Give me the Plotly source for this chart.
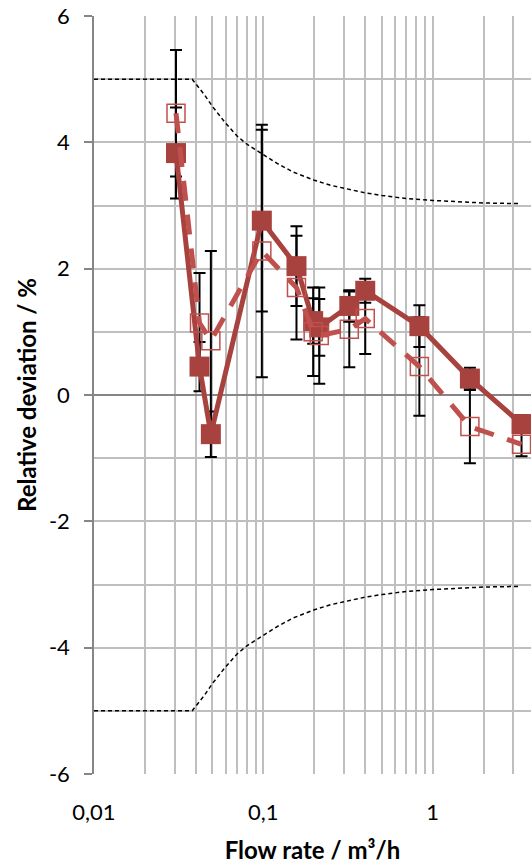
import plotly.graph_objects as go

# ---- data ----
flow = [0.0305, 0.042, 0.049, 0.098, 0.157, 0.197, 0.214, 0.322, 0.40, 0.835, 1.66, 3.35]
dev_solid = [3.83, 0.45, -0.62, 2.76, 2.04, 1.17, 1.07, 1.41, 1.65, 1.09, 0.26, -0.46]
err_solid = [0.72, 0.39, 0.36, 1.44, 0.63, 0.36, 0.45, 0.25, 0.19, 0.33, 0.17, 0.14]
dev_open = [4.46, 1.14, 0.86, 2.28, 1.70, 1.00, 0.94, 1.04, 1.21, 0.45, -0.50, -0.78]
err_open = [1.00, 0.79, 1.42, 2.00, 0.82, 0.70, 0.76, 0.60, 0.56, 0.78, 0.58, 0.19]

lim_x = [0.01, 0.038, 0.045, 0.05, 0.06, 0.07, 0.08, 0.1, 0.12, 0.15, 0.2, 0.25,
         0.3, 0.4, 0.5, 0.7, 1.0, 1.5, 2.0, 3.3]
lim_up = [5.0, 5.0, 4.75, 4.57, 4.3, 4.1, 3.97, 3.8, 3.67, 3.53, 3.4, 3.32,
          3.27, 3.2, 3.16, 3.11, 3.08, 3.05, 3.04, 3.03]
lim_low = [-5.0, -5.0, -4.75, -4.57, -4.3, -4.1, -3.97, -3.8, -3.67, -3.53, -3.4, -3.32,
           -3.27, -3.2, -3.16, -3.11, -3.08, -3.05, -3.04, -3.03]

x_major = [0.01, 0.1, 1]
x_major_text = ["0,01", "0,1", "1"]
x_minor = [0.02, 0.03, 0.04, 0.05, 0.06, 0.07, 0.08, 0.09,
           0.2, 0.3, 0.4, 0.5, 0.6, 0.7, 0.8, 0.9,
           2, 3, 4, 5, 6, 7, 8, 9]
y_major = [-6, -4, -2, 0, 2, 4, 6]
y_major_text = ["-6", "-4", "-2", "0", "2", "4", "6"]

SOLID = "#A8423F"
OPEN = "#C0504D"
FONT = "Lato"

fig = go.Figure()

# limit curves
for ly in (lim_up, lim_low):
    fig.add_trace(go.Scatter(x=lim_x, y=ly, mode="lines",
                             line=dict(color="black", width=1.5, dash="4px,3px"),
                             showlegend=False, hoverinfo="skip"))

# error bars (drawn beneath the series)
for yv, ev in ((dev_solid, err_solid), (dev_open, err_open)):
    fig.add_trace(go.Scatter(x=flow, y=yv, mode="markers",
                             marker=dict(size=1, color="rgba(0,0,0,0)"),
                             error_y=dict(type="data", array=ev, visible=True,
                                          color="black", thickness=2, width=6),
                             showlegend=False, hoverinfo="skip"))

# solid series
fig.add_trace(go.Scatter(x=flow, y=dev_solid, mode="lines+markers",
                         line=dict(color=SOLID, width=5),
                         marker=dict(symbol="square", size=20, color=SOLID,
                                     line=dict(width=0)),
                         showlegend=False))

# open-marker dashed series
fig.add_trace(go.Scatter(x=flow, y=dev_open, mode="lines+markers",
                         line=dict(color=OPEN, width=5, dash="20px,14px"),
                         marker=dict(symbol="square-open", size=18, color=OPEN,
                                     line=dict(width=1.5, color=OPEN)),
                         showlegend=False))

fig.update_layout(
    width=531, height=864,
    margin=dict(l=94, r=0, t=16, b=90),
    paper_bgcolor="white", plot_bgcolor="white",
    font=dict(family=FONT, size=22, color="black"),
)

fig.update_xaxes(
    type="log", range=[-2, 0.581],
    tickmode="array", tickvals=x_major, ticktext=x_major_text,
    tickfont=dict(size=22, family=FONT),
    showgrid=True, gridcolor="#BFBFBF", gridwidth=1.5,
    minor=dict(tickmode="array", tickvals=x_minor, showgrid=True,
               gridcolor="#BFBFBF", gridwidth=1.5, ticks=""),
    ticks="", showline=False, zeroline=False,
    ticklabelstandoff=23,
    title=dict(text="<b>Flow rate / m³/h</b>", font=dict(size=24, family=FONT),
               standoff=22),
)

fig.update_yaxes(
    range=[-6, 6],
    tickmode="array", tickvals=y_major, ticktext=y_major_text,
    tickfont=dict(size=22, family=FONT),
    showgrid=True, gridcolor="#BFBFBF", gridwidth=1.5,
    minor=dict(dtick=1, tick0=-6, showgrid=True, gridcolor="#BFBFBF",
               gridwidth=1.5, ticks=""),
    ticks="outside", ticklen=8, tickwidth=1.5, tickcolor="#868686",
    showline=True, linecolor="#868686", linewidth=1.5,
    zeroline=True, zerolinecolor="#868686", zerolinewidth=1.5,
    ticklabelstandoff=10,
    title=dict(text="<b>Relative deviation / %</b>", font=dict(size=24, family=FONT),
               standoff=6),
)

fig.write_html("out.html")
